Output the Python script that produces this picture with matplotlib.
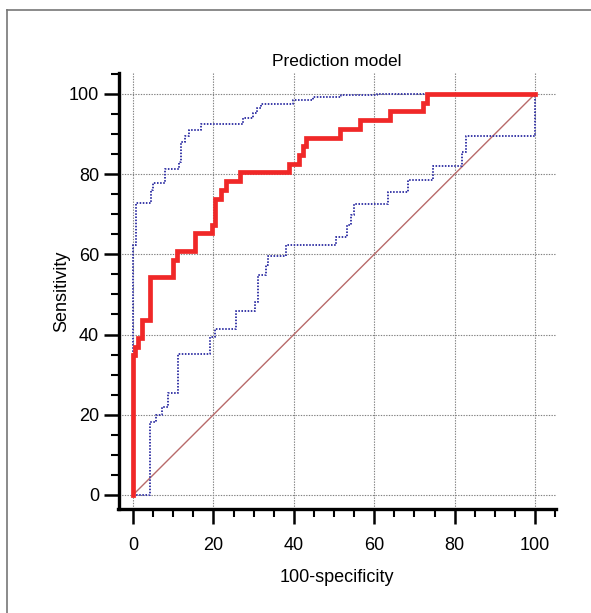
import matplotlib
matplotlib.use('Agg')
import matplotlib.pyplot as plt
from matplotlib.lines import Line2D
from matplotlib.ticker import MultipleLocator

plt.rcParams['font.family'] = ['Liberation Sans', 'DejaVu Sans']

# ROC curve (step points: x = 100-specificity, y = sensitivity)
roc_x = [0, 0, 0.5, 0.5, 1.3, 1.3, 2.3, 2.3, 4.2, 4.2, 10, 10, 11, 11, 15.4, 15.4,
         19.6, 19.6, 20.4, 20.4, 22, 22, 23.1, 23.1, 26.5, 26.5, 38.9, 38.9,
         41.3, 41.3, 42.2, 42.2, 43, 43, 51.5, 51.5, 56.5, 56.5, 63.8, 63.8,
         72.2, 72.2, 73, 73, 100]
roc_y = [0, 34.8, 34.8, 37, 37, 39.1, 39.1, 43.5, 43.5, 54.3, 54.3, 58.7, 58.7,
         60.9, 60.9, 65.2, 65.2, 67.4, 67.4, 73.9, 73.9, 76.1, 76.1, 78.3, 78.3,
         80.4, 80.4, 82.6, 82.6, 84.8, 84.8, 87, 87, 89.1, 89.1, 91.3, 91.3,
         93.5, 93.5, 95.7, 95.7, 97.8, 97.8, 100, 100]

# upper confidence bound
upper_x = [0, 0, 0.7, 0.7, 4.4, 4.4, 5, 5, 8, 8, 11.5, 11.5, 11.9, 11.9, 12.9, 12.9,
           14, 14, 16.9, 16.9, 27.4, 27.4, 29.8, 29.8, 30.8, 30.8, 31.8, 31.8,
           39.7, 39.7, 44.8, 44.8, 51.8, 51.8, 60.6, 60.6, 100]
upper_y = [0, 62.3, 62.3, 72.7, 72.7, 76.1, 76.1, 77.9, 77.9, 81.3, 81.3, 83.1,
           83.1, 88.1, 88.1, 89.5, 89.5, 91, 91, 92.5, 92.5, 93.9, 93.9, 95.3,
           95.3, 96.4, 96.4, 97.5, 97.5, 98.4, 98.4, 99.2, 99.2, 99.7, 99.7, 100, 100]

# lower confidence bound
lower_x = [0, 4.2, 4.2, 5.7, 5.7, 7.1, 7.1, 8.6, 8.6, 11.3, 11.3, 19.2, 19.2,
           20.4, 20.4, 25.5, 25.5, 30.3, 30.3, 31.2, 31.2, 33, 33, 33.5, 33.5,
           38, 38, 50.5, 50.5, 53.2, 53.2, 54.1, 54.1, 55, 55, 63.5, 63.5,
           68.3, 68.3, 74.7, 74.7, 81.9, 81.9, 82.7, 82.7, 100, 100]
lower_y = [0, 0, 18.3, 18.3, 20, 20, 22, 22, 25.5, 25.5, 35.2, 35.2, 39.5, 39.5,
           41.3, 41.3, 45.9, 45.9, 48.2, 48.2, 54.9, 54.9, 57.4, 57.4, 59.6,
           59.6, 62.2, 62.2, 64.4, 64.4, 67.2, 67.2, 69.8, 69.8, 72.6, 72.6,
           75.6, 75.6, 78.6, 78.6, 81.9, 81.9, 85.6, 85.6, 89.5, 89.5, 100]

diag = [0, 100]

fig = plt.figure(figsize=(5.91, 6.13), dpi=100)
ax = fig.add_axes([118.5 / 591, 1 - 509 / 613, (556 - 118.5) / 591, (509 - 73) / 613])

# outer frame (left and top edges)
fig.add_artist(Line2D([7 / 591, 7 / 591], [0, 1 - 10 / 613], color='#777777', lw=1.2))
fig.add_artist(Line2D([7 / 591, 1], [1 - 10 / 613, 1 - 10 / 613], color='#777777', lw=1.2))

ax.plot(diag, diag, color='#b86a6a', lw=1.0, zorder=2)
ax.plot(upper_x, upper_y, color='#3a3aa8', lw=1.4, ls=(0, (0.8, 0.8)), zorder=3)
ax.plot(lower_x, lower_y, color='#3a3aa8', lw=1.4, ls=(0, (0.8, 0.8)), zorder=3)
ax.plot(roc_x, roc_y, color='#f02828', lw=3.4, zorder=4, solid_joinstyle='miter')

ax.set_xlim(-3.6, 105.2)
ax.set_ylim(-3.5, 105.2)
ax.xaxis.set_major_locator(MultipleLocator(20))
ax.xaxis.set_minor_locator(MultipleLocator(5))
ax.yaxis.set_major_locator(MultipleLocator(20))
ax.yaxis.set_minor_locator(MultipleLocator(5))

for s in ['top', 'right']:
    ax.spines[s].set_visible(False)
for s in ['left', 'bottom']:
    ax.spines[s].set_linewidth(2.4)
    ax.spines[s].set_capstyle('projecting')

ax.tick_params(which='major', length=11, width=1.8, direction='out', labelsize=13)
ax.tick_params(axis='x', which='major', pad=9)
ax.tick_params(axis='y', which='major', pad=3)
ax.tick_params(which='minor', length=5.5, width=1.5, direction='out')
ax.grid(True, which='major', color='#808080', ls=(0, (1.2, 1.2)), lw=0.8)
ax.set_axisbelow(True)

ax.set_title('Prediction model', fontsize=12.5, pad=5)
ax.set_xlabel('100-specificity', fontsize=13, labelpad=11)
ax.set_ylabel('Sensitivity', fontsize=13, labelpad=-1)

fig.savefig('out.png', dpi=100)
